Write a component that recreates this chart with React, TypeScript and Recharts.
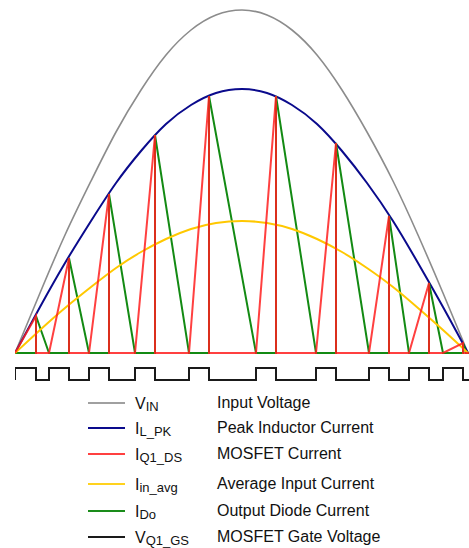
import React from "react";
import { LineChart, Line, XAxis, YAxis } from "recharts";

// time axis (t = 0 at the start of the half line cycle)
const curveT = [0, 25, 50, 76, 101, 126, 151, 176, 201, 227, 252, 277, 302, 327, 352, 378, 403, 428, 453];
const inputVoltage = [0, 60, 118, 172, 221, 263, 298, 323, 338, 343, 338, 323, 298, 263, 221, 172, 118, 60, 0];
const peakInductor = [0, 46, 90, 132, 170, 202, 229, 248, 260, 264, 260, 248, 229, 202, 170, 132, 90, 46, 0];
const avgInput = [0, 23, 45, 66, 85, 101, 114, 124, 130, 132, 130, 124, 114, 101, 85, 66, 45, 23, 0];

// switching cycles
const onTimes = [0, 34, 74, 120, 174, 241, 301, 354, 394, 428];
const offTimes = [21, 54, 94, 140, 194, 261, 321, 374, 414, 448];
const endTimes = [34, 74, 120, 174, 241, 301, 354, 394, 428, 451];
const peaks = [37, 95, 159, 218, 257, 257, 210, 137, 70, 10];
const gateLevels = [-27, -15]; // low, high
const tEnd = 454;

const legendSymbols = [
  { main: "V", sub: "IN" },
  { main: "I", sub: "L_PK" },
  { main: "I", sub: "Q1_DS" },
  { main: "I", sub: "in_avg" },
  { main: "I", sub: "Do" },
  { main: "V", sub: "Q1_GS" },
];
const legendLabels = [
  "Input Voltage",
  "Peak Inductor Current",
  "MOSFET Current",
  "Average Input Current",
  "Output Diode Current",
  "MOSFET Gate Voltage",
];
const colors = ["#8c8c8c", "#0a0a8c", "#ff1e1e", "#ffc800", "#138a13", "#1a1a1a"];
const legendColors = ["#a0a0a0", "#0a0a8c", "#ff4040", "#ffd21e", "#1a8c1a", "#1a1a1a"];
const legendRowY = [403, 428, 454, 484, 511, 537];

const toPts = (vals: number[]) => curveT.map((t, i) => ({ t, v: vals[i] }));
const vinData = toPts(inputVoltage);
const ilpkData = toPts(peakInductor);
const iavgData = toPts(avgInput);

const redData: { t: number; v: number }[] = [];
const greenData: { t: number; v: number }[] = [{ t: 0, v: 0 }];
const gateData: { t: number; v: number }[] = [{ t: 0, v: gateLevels[0] }];
onTimes.forEach((on, i) => {
  const off = offTimes[i];
  redData.push({ t: on, v: 0 }, { t: off, v: peaks[i] }, { t: off, v: 0 });
  greenData.push({ t: off, v: 0 }, { t: off, v: peaks[i] }, { t: endTimes[i], v: 0 });
  gateData.push(
    { t: on, v: gateLevels[0] },
    { t: on, v: gateLevels[1] },
    { t: off, v: gateLevels[1] },
    { t: off, v: gateLevels[0] }
  );
});
redData.push({ t: tEnd, v: 0 });
greenData.push({ t: tEnd, v: 0 });
gateData.push({ t: tEnd, v: gateLevels[0] });

const font = '"Liberation Sans", Arial, Helvetica, sans-serif';

export default function App() {
  return (
    <div style={{ position: "absolute", left: 0, top: 0, width: 469, height: 548, background: "#fff" }}>
      <LineChart width={469} height={548} margin={{ top: 0, right: 0, bottom: 0, left: 15 }}>
        <XAxis type="number" dataKey="t" domain={[0, tEnd]} hide allowDataOverflow />
        <YAxis type="number" domain={[-195, 353]} hide allowDataOverflow />
        <Line data={vinData} dataKey="v" type="natural" stroke={colors[0]} strokeWidth={1.6} dot={false} isAnimationActive={false} />
        <Line data={ilpkData} dataKey="v" type="natural" stroke={colors[1]} strokeWidth={2} dot={false} isAnimationActive={false} />
        <Line data={greenData} dataKey="v" type="linear" stroke={colors[4]} strokeWidth={2} dot={false} isAnimationActive={false} />
        <Line data={iavgData} dataKey="v" type="natural" stroke={colors[3]} strokeWidth={2} dot={false} isAnimationActive={false} />
        <Line data={redData} dataKey="v" type="linear" stroke={colors[2]} strokeOpacity={0.85} strokeWidth={2} dot={false} isAnimationActive={false} />
        <Line data={gateData} dataKey="v" type="linear" stroke={colors[5]} strokeWidth={2} dot={false} isAnimationActive={false} />
      </LineChart>
      <svg width={469} height={548} style={{ position: "absolute", left: 0, top: 0, pointerEvents: "none" }}>
        {legendRowY.map((y, i) => (
          <g key={i}>
            <line x1={88} x2={125} y1={y} y2={y} stroke={legendColors[i]} strokeWidth={2} />
            <text x={135} y={y + 5.5} fontFamily={font} fontSize={16} fill="#111">
              {legendSymbols[i].main}
              <tspan fontSize={13} dy={2.5}>{legendSymbols[i].sub}</tspan>
            </text>
            <text x={217} y={y + 4.5} fontFamily={font} fontSize={16} fill="#111">
              {legendLabels[i]}
            </text>
          </g>
        ))}
      </svg>
    </div>
  );
}
